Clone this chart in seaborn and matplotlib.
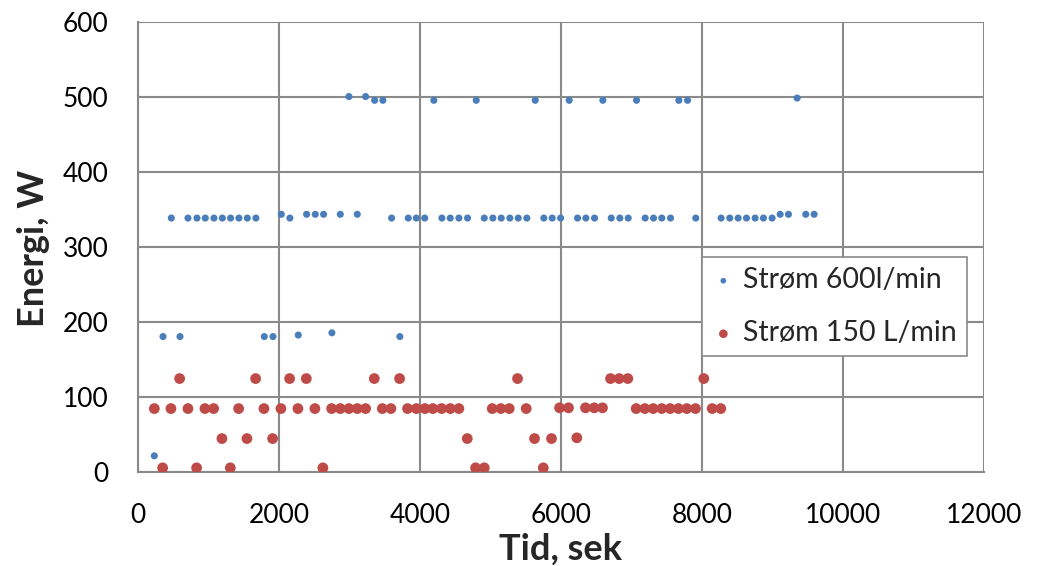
import matplotlib
matplotlib.use("Agg")
import matplotlib.pyplot as plt
import seaborn as sns
import pandas as pd

# ---- data ----
series_names = ["Strøm 600l/min", "Strøm 150 L/min"]

t_600 = [232, 355, 473, 596, 709, 837, 955, 1078, 1197, 1314, 1432, 1551, 1673,
         1792, 1915, 2033, 2155, 2274, 2392, 2515, 2633, 2751, 2870, 2992, 3111,
         3229, 3357, 3474, 3598, 3715, 3834, 3948, 4067, 4197, 4311, 4430, 4552,
         4675, 4798, 4912, 5034, 5153, 5275, 5394, 5516, 5635, 5757, 5876, 5995,
         6117, 6235, 6353, 6476, 6594, 6713, 6835, 6954, 7072, 7195, 7313, 7430,
         7554, 7672, 7795, 7912, 8272, 8394, 8513, 8631, 8754, 8872, 8995, 9109,
         9227, 9350, 9472, 9591]
e_600 = [22, 181, 339, 181, 339, 339, 339, 339, 339, 339, 339, 339, 339,
         181, 181, 344, 339, 183, 344, 344, 344, 186, 344, 501, 344,
         501, 496, 496, 339, 181, 339, 339, 339, 496, 339, 339, 339,
         339, 496, 339, 339, 339, 339, 339, 339, 496, 339, 339, 339,
         496, 339, 339, 339, 496, 339, 339, 339, 496, 339, 339, 339,
         339, 496, 496, 339, 339, 339, 339, 339, 339, 339, 339, 344,
         344, 499, 344, 344]

t_150 = [232, 350, 468, 591, 709, 832, 950, 1073, 1191, 1310, 1428, 1546, 1669,
         1787, 1910, 2028, 2151, 2269, 2388, 2510, 2623, 2747, 2870, 2992, 3111,
         3229, 3352, 3466, 3588, 3711, 3824, 3948, 4070, 4183, 4307, 4430, 4552,
         4671, 4789, 4912, 5025, 5147, 5266, 5384, 5507, 5625, 5749, 5866, 5980,
         6107, 6225, 6348, 6472, 6589, 6703, 6826, 6948, 7067, 7189, 7308, 7430,
         7549, 7667, 7785, 7908, 8026, 8145, 8267]
e_150 = [85, 6, 85, 125, 85, 6, 85, 85, 45, 6, 85, 45, 125,
         85, 45, 85, 125, 85, 125, 85, 6, 85, 85, 85, 85,
         85, 125, 85, 85, 125, 85, 85, 85, 85, 85, 85, 85,
         45, 6, 6, 85, 85, 85, 125, 85, 45, 6, 45, 86,
         86, 46, 86, 86, 86, 125, 125, 125, 85, 85, 85, 85,
         85, 85, 85, 85, 125, 85, 85]

x_ticks = [0, 2000, 4000, 6000, 8000, 10000, 12000]
y_ticks = [0, 100, 200, 300, 400, 500, 600]

colors = {"Strøm 600l/min": "#4A7EBB", "Strøm 150 L/min": "#BE4B48"}
sizes = {"Strøm 600l/min": 26, "Strøm 150 L/min": 60}

df = pd.concat([
    pd.DataFrame({"t": t_600, "e": e_600, "serie": series_names[0]}),
    pd.DataFrame({"t": t_150, "e": e_150, "serie": series_names[1]}),
], ignore_index=True)

sns.set_style("white")
plt.rcParams["font.family"] = ["Lato", "DejaVu Sans"]

fig = plt.figure(figsize=(10.42, 5.66), dpi=100)
ax = fig.add_axes([0.1324, 0.1655, 0.8119, 0.7951])

for name in series_names:
    sub = df[df["serie"] == name]
    sns.scatterplot(data=sub, x="t", y="e", ax=ax, color=colors[name],
                    s=sizes[name], edgecolor="none", linewidth=0, label=name,
                    zorder=3)

ax.set_xlim(0, 12000)
ax.set_ylim(0, 600)
ax.set_xticks(x_ticks)
ax.set_yticks(y_ticks)
ax.grid(True, color="#8A8A8A", linewidth=1.5, zorder=0)
ax.set_axisbelow(True)
for side in ["top", "right"]:
    ax.spines[side].set_visible(False)
for side in ["left", "bottom"]:
    ax.spines[side].set_color("#8A8A8A")
    ax.spines[side].set_linewidth(1.5)

ax.tick_params(axis="both", which="major", labelsize=19, colors="#8A8A8A",
               labelcolor="black", length=7, width=1.5, direction="out")
ax.tick_params(axis="y", pad=14)
ax.tick_params(axis="x", pad=15)

ax.set_xlabel("Tid, sek", fontsize=26, fontweight="bold", va="center")
ax.set_ylabel("Energi, W", fontsize=26, fontweight="bold", va="center")
ax.xaxis.set_label_coords(0.5, -0.170)
ax.yaxis.set_label_coords(-0.123, 0.498)

leg = ax.legend(loc="upper left", bbox_to_anchor=(0.6667, 0.478), fontsize=20.5,
                frameon=True, fancybox=False, edgecolor="#8A8A8A",
                framealpha=1, markerscale=0.8, handletextpad=0.3,
                borderpad=0.35, labelspacing=0.95, handlelength=0.8,
                borderaxespad=0)
leg.get_frame().set_linewidth(1.2)

fig.savefig("out.png", dpi=100)
